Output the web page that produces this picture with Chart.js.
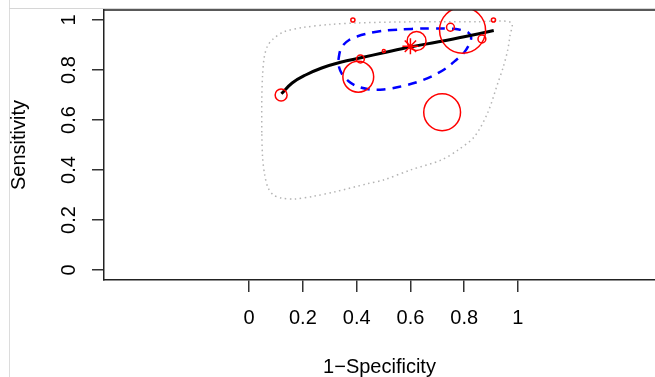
<!DOCTYPE html>
<html>
<head>
<meta charset="utf-8">
<script src="https://cdn.jsdelivr.net/npm/chart.js@4/dist/chart.umd.min.js"></script>
<style>
  html, body { margin: 0; padding: 0; background: #fff; overflow: hidden; }
  #wrap { position: relative; width: 655px; height: 377px; }
  .edge-v { position: absolute; left: 9px; top: 0; width: 1px; height: 377px; background: #dcdcdc; }
  .edge-h { position: absolute; left: 9px; top: 8px; width: 646px; height: 1px; background: #d6d6d6; }
</style>
</head>
<body>
<div id="wrap">
  <canvas id="sroc" width="655" height="377"></canvas>
  <div class="edge-v"></div>
  <div class="edge-h"></div>
</div>
<script>
// single studies: false positive rate, sensitivity, relative weight (circle size)
const studyFpr  = [0.119, 0.386, 0.406, 0.414, 0.501, 0.623, 0.794, 0.749, 0.909, 0.866, 0.718];
const studySens = [0.700, 1.000, 0.773, 0.844, 0.876, 0.916, 0.959, 0.971, 1.000, 0.924, 0.631];
const studyWeight = [0.26, 0.09, 0.67, 0.17, 0.065, 0.41, 1.0, 0.17, 0.09, 0.17, 0.80];

// summary estimate
const summaryFpr = 0.600;
const summarySens = 0.895;

// SROC curve
const srocFpr  = [0.12, 0.16, 0.21, 0.27, 0.34, 0.42, 0.50, 0.60, 0.70, 0.80, 0.91];
const srocSens = [0.705, 0.748, 0.780, 0.808, 0.831, 0.850, 0.869, 0.892, 0.912, 0.933, 0.958];

// confidence region (blue dashed)
const confFpr  = [0.332, 0.338, 0.350, 0.372, 0.404, 0.450, 0.500, 0.560, 0.650, 0.720, 0.780, 0.815, 0.826, 0.820, 0.800, 0.770, 0.730, 0.680, 0.620, 0.560, 0.500, 0.450, 0.400, 0.370, 0.345, 0.335, 0.332];
const confSens = [0.840, 0.875, 0.900, 0.920, 0.935, 0.948, 0.957, 0.962, 0.966, 0.966, 0.962, 0.950, 0.930, 0.905, 0.870, 0.840, 0.805, 0.775, 0.750, 0.733, 0.722, 0.722, 0.735, 0.755, 0.785, 0.810, 0.840];

// prediction region (grey dotted)
const predFpr  = [0.047, 0.047, 0.050, 0.056, 0.068, 0.090, 0.130, 0.200, 0.300, 0.400, 0.550, 0.700, 0.850, 0.975, 0.970, 0.962, 0.945, 0.925, 0.888, 0.838, 0.777, 0.715, 0.600, 0.500, 0.440, 0.320, 0.240, 0.170, 0.120, 0.090, 0.070, 0.058, 0.050, 0.047];
const predSens = [0.550, 0.680, 0.780, 0.850, 0.895, 0.925, 0.953, 0.970, 0.982, 0.988, 0.992, 0.993, 0.993, 0.990, 0.935, 0.880, 0.810, 0.747, 0.630, 0.533, 0.480, 0.440, 0.400, 0.360, 0.345, 0.313, 0.295, 0.284, 0.288, 0.300, 0.330, 0.380, 0.450, 0.550];

const axisTicks = [0, 0.2, 0.4, 0.6, 0.8, 1];
const tickLabels = ['0', '0.2', '0.4', '0.6', '0.8', '1'];

const pts = (xs, ys) => xs.map((x, i) => ({x: x, y: ys[i]}));
const font = {family: '"Liberation Sans", Arial, sans-serif', size: 20};

// R box: top edge (right side runs off the page)
const boxTop = {
  id: 'boxTop',
  afterDraw(chart) {
    const a = chart.chartArea, c = chart.ctx;
    c.save();
    c.strokeStyle = '#222';
    c.lineWidth = 1.5;
    c.beginPath();
    c.moveTo(a.left, a.top);
    c.lineTo(a.right, a.top);
    c.stroke();
    c.restore();
  }
};

const setTicks = s => { s.ticks = axisTicks.map(v => ({value: v})); };
const noPad = s => { s.paddingLeft = 0; s.paddingRight = 0; s.paddingTop = 0; s.paddingBottom = 0; };

new Chart(document.getElementById('sroc'), {
  type: 'scatter',
  data: {
    datasets: [
      {
        data: pts(predFpr, predSens), showLine: true, fill: false,
        borderColor: '#b4b4b4', borderWidth: 1.5, borderDash: [1.5, 3.5],
        pointRadius: 0, tension: 0.3, order: 5
      },
      {
        data: pts(confFpr, confSens), showLine: true, fill: false,
        borderColor: '#0000ff', borderWidth: 2.5, borderDash: [9, 7],
        pointRadius: 0, tension: 0.3, order: 4
      },
      {
        data: pts(srocFpr, srocSens), showLine: true, fill: false,
        borderColor: '#000', borderWidth: 3,
        pointRadius: 0, tension: 0.4, order: 3
      },
      {
        data: pts(studyFpr, studySens), showLine: false,
        pointRadius: studyWeight.map(w => w * 23),
        pointBackgroundColor: 'rgba(0,0,0,0)', pointBorderColor: '#ff0000',
        pointBorderWidth: 1.5, order: 2
      },
      {
        data: [{x: summaryFpr, y: summarySens}], showLine: false,
        pointStyle: 'star', pointRadius: 8,
        pointBorderColor: '#ff0000', pointBorderWidth: 1.5, order: 1
      }
    ]
  },
  options: {
    responsive: false,
    animation: false,
    devicePixelRatio: 1,
    layout: {autoPadding: false, padding: {top: 10, left: 0, right: 0, bottom: 0}},
    plugins: {legend: {display: false}, tooltip: {enabled: false}},
    scales: {
      x: {
        type: 'linear', min: -0.54, max: 1.51,
        afterBuildTicks: setTicks,
        afterFit: s => { s.height = 97; noPad(s); },
        grid: {drawOnChartArea: false, tickLength: 12, color: '#333', lineWidth: 1.5},
        border: {color: '#222', width: 1.5},
        ticks: {font: font, color: '#000', padding: 14, maxRotation: 0, autoSkip: false,
                callback: (v, i) => tickLabels[i]},
        title: {display: true, text: '1\u2212Specificity', font: font, color: '#000',
                padding: {top: 0, bottom: -2}}
      },
      y: {
        type: 'linear', min: -0.04, max: 1.04,
        afterBuildTicks: setTicks,
        afterFit: s => { s.width = 104; noPad(s); },
        grid: {drawOnChartArea: false, tickLength: 12, color: '#333', lineWidth: 1.5},
        border: {color: '#222', width: 1.5},
        ticks: {font: font, color: '#000', padding: 9, minRotation: 90, maxRotation: 90,
                crossAlign: 'center', autoSkip: false,
                callback: (v, i) => tickLabels[i]},
        title: {display: true, text: 'Sensitivity', font: font, color: '#000',
                padding: {top: 7, bottom: 0}}
      }
    }
  },
  plugins: [boxTop]
});
</script>
</body>
</html>
